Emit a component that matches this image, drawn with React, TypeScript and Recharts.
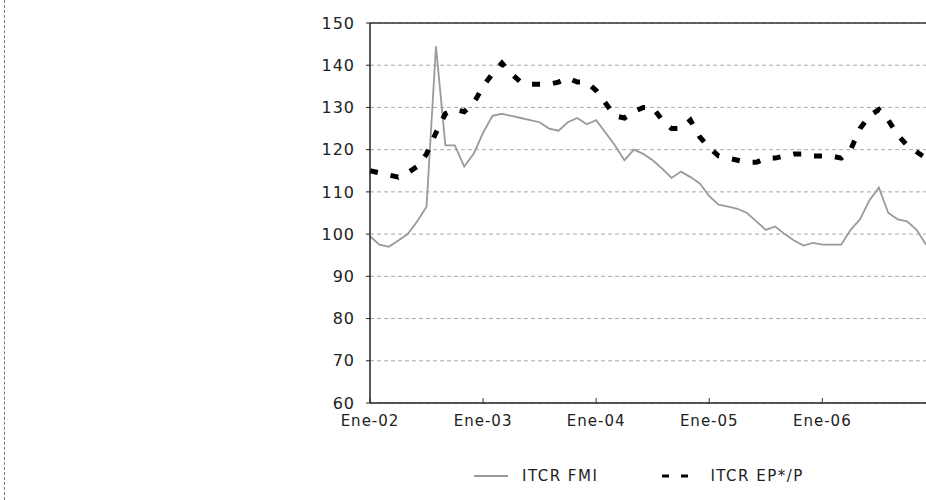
import { LineChart, Line, XAxis, YAxis, CartesianGrid, ReferenceLine } from 'recharts'

// month index 0 = Ene-02 ... 59 = Dic-06
const yearLabels = ['Ene-02', 'Ene-03', 'Ene-04', 'Ene-05', 'Ene-06']
const yTicks = [60, 70, 80, 90, 100, 110, 120, 130, 140, 150]

const itcrFmi = [
    99.5, 97.5, 97, 98.5, 100, 103, 106.5, 144.5, 121, 121, 116, 119,
    124, 128, 128.5, 128, 127.5, 127, 126.5, 125, 124.5, 126.5, 127.5, 126,
    127, 124, 121, 117.5, 120, 119, 117.5, 115.5, 113.3, 114.8, 113.5, 112,
    109, 107, 106.5, 106, 105, 103, 101, 101.8, 100, 98.5, 97.3, 97.9,
    97.5, 97.5, 97.5, 101, 103.5, 108, 111, 105, 103.5, 103, 101, 97.5,
]

const itcrEp = [
    115, 114.5, 114, 113.5, 114.5, 116, 119, 124, 128.5, 129.5, 129, 131,
    135, 138, 140.5, 138, 136, 135.5, 135.5, 135.5, 136, 137, 136, 136,
    134, 131, 128, 127.5, 129, 130, 130, 127, 125, 125, 127, 123,
    120.5, 118.5, 118, 117.5, 117, 117, 118, 118, 118.5, 119, 119, 118.5,
    118.5, 118.5, 118, 120, 125, 128, 129.5, 127, 123.5, 121, 119.5, 118,
]

const chartData = itcrFmi.map((v, i) => ({ m: i, fmi: v, ep: itcrEp[i] }))

const font = '"DejaVu Sans", sans-serif'

function XTick(props: any) {
    const { x, y, payload } = props
    const label = yearLabels[Math.round(payload.value / 12)]
    return (
        <g>
            <line x1={x} x2={x} y1={y - 8} y2={y - 13} stroke="#333" strokeWidth={1} />
            <text x={x} y={y + 15} textAnchor="middle" fill="#222" fontSize={15}
                fontFamily={font} letterSpacing={1}>
                {label}
            </text>
        </g>
    )
}

export default function App() {
    return (
        <div style={{ position: 'absolute', left: 0, top: 0, width: 926, height: 500, background: '#fff', overflow: 'hidden' }}>
            <div style={{ position: 'absolute', left: 4, top: 0, height: 500, borderLeft: '1px dashed #777' }} />
            <LineChart width={926} height={500} data={chartData}
                margin={{ top: 23, right: 0, left: 300, bottom: 67 }}>
                <CartesianGrid vertical={false} stroke="#aaa" strokeDasharray="4 3" />
                <XAxis dataKey="m" type="number" domain={[0, 59]} ticks={[0, 12, 24, 36, 48]}
                    height={30} tickLine={false} axisLine={{ stroke: '#222', strokeWidth: 1.5 }}
                    tick={<XTick />} interval={0} />
                <YAxis domain={[60, 150]} ticks={yTicks} width={70} interval={0}
                    tickSize={4} tickMargin={11} axisLine={{ stroke: '#222', strokeWidth: 1.5 }}
                    tickLine={{ stroke: '#222' }}
                    tick={{ fill: '#222', fontSize: 16, fontFamily: font, letterSpacing: 1 }} />
                <ReferenceLine y={150} stroke="#333" strokeWidth={1.5} />
                <Line type="linear" dataKey="fmi" stroke="#9a9a9a" strokeWidth={1.8}
                    dot={false} isAnimationActive={false} />
                <Line type="linear" dataKey="ep" stroke="#000" strokeWidth={5}
                    strokeDasharray="8 13" dot={false} isAnimationActive={false} />
            </LineChart>
            <div style={{ position: 'absolute', top: 467, left: 474, display: 'flex', alignItems: 'center',
                fontFamily: font, fontSize: 15, color: '#222', letterSpacing: 1.5 }}>
                <svg width={34} height={6}><line x1={0} x2={34} y1={3} y2={3} stroke="#9a9a9a" strokeWidth={1.8} /></svg>
                <span style={{ marginLeft: 14 }}>ITCR FMI</span>
                <svg width={36} height={8} style={{ marginLeft: 64 }}>
                    <line x1={0} x2={36} y1={4} y2={4} stroke="#000" strokeWidth={3} strokeDasharray="7 12" />
                </svg>
                <span style={{ marginLeft: 12 }}>ITCR EP*/P</span>
            </div>
        </div>
    )
}
